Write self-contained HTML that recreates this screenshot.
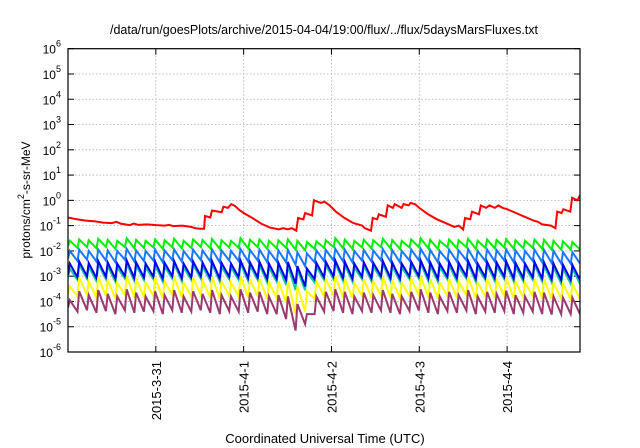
<!DOCTYPE html>
<html><head><meta charset="utf-8"><style>
body{margin:0;background:#fff;}
svg{display:block;font-family:"Liberation Sans",sans-serif;}
</style></head><body>
<svg id="chart" width="640" height="448" viewBox="0 0 640 448"></svg>
<script>
const tickDays=[1,2,3,4,5];
const tickLabels=["2015-3-31","2015-4-1","2015-4-2","2015-4-3","2015-4-4"];
const yDecades=[-6,-5,-4,-3,-2,-1,0,1,2,3,4,5,6];
const toothPeriod=0.108;
const redT=[0,0.1,0.2,0.3,0.4,0.5,0.55,0.6,0.7,0.75,0.8,0.9,1.0,1.1,1.15,1.2,1.3,1.4,1.45,1.5,1.55,1.56,1.62,1.64,1.75,1.77,1.82,1.86,1.9,1.95,2.0,2.1,2.2,2.3,2.4,2.45,2.5,2.55,2.6,2.62,2.68,2.7,2.78,2.8,2.88,2.92,2.98,3.05,3.15,3.25,3.35,3.38,3.45,3.47,3.52,3.54,3.62,3.64,3.7,3.72,3.8,3.82,3.88,3.9,3.95,4.0,4.1,4.2,4.3,4.4,4.45,4.5,4.52,4.58,4.6,4.68,4.7,4.76,4.8,4.86,4.9,4.95,5.0,5.1,5.2,5.3,5.35,5.4,5.5,5.55,5.57,5.62,5.64,5.72,5.74,5.8,5.83];
const redV=[-0.68,-0.75,-0.8,-0.83,-0.88,-0.9,-0.85,-0.92,-0.98,-0.92,-0.97,-0.95,-0.98,-1.0,-0.97,-1.02,-1.0,-1.05,-1.1,-1.12,-1.12,-0.62,-0.68,-0.4,-0.47,-0.25,-0.3,-0.15,-0.22,-0.38,-0.5,-0.7,-0.92,-1.08,-1.15,-1.1,-1.15,-1.1,-1.2,-0.7,-0.75,-0.5,-0.6,0.0,-0.1,-0.05,-0.2,-0.45,-0.7,-0.9,-1.0,-1.1,-1.2,-0.7,-0.75,-0.55,-0.65,-0.2,-0.3,-0.15,-0.3,-0.15,-0.2,-0.1,-0.15,-0.3,-0.55,-0.75,-0.9,-1.05,-1.0,-1.15,-0.7,-0.75,-0.45,-0.55,-0.2,-0.3,-0.2,-0.3,-0.2,-0.3,-0.35,-0.5,-0.65,-0.8,-0.85,-0.95,-1.0,-1.1,-0.45,-0.5,-0.35,-0.45,0.1,0.0,0.2];
const greenPeak=[-1.6,-1.55,-1.58,-1.52,-1.57,-1.6,-1.5,-1.56,-1.6,-1.55,-1.58,-1.52,-1.6,-1.55,-1.57,-1.53,-1.58,-1.6,-1.5,-1.56,-1.55,-1.6,-1.58,-1.55,-1.6,-1.65,-1.62,-1.58,-1.5,-1.55,-1.6,-1.56,-1.58,-1.52,-1.57,-1.6,-1.55,-1.5,-1.56,-1.6,-1.55,-1.58,-1.52,-1.6,-1.55,-1.57,-1.53,-1.58,-1.6,-1.55,-1.56,-1.6,-1.62,-1.65];
const greenTrough=[-1.8,-1.88,-1.85,-1.9,-1.84,-1.92,-1.85,-1.9,-1.88,-1.86,-1.92,-1.85,-1.9,-1.88,-1.84,-1.9,-1.92,-1.86,-1.88,-1.9,-1.85,-1.92,-1.9,-1.88,-1.95,-1.98,-1.92,-1.88,-1.85,-1.9,-1.92,-1.86,-1.9,-1.85,-1.9,-1.92,-1.86,-1.85,-1.9,-1.92,-1.86,-1.9,-1.85,-1.92,-1.88,-1.9,-1.86,-1.92,-1.9,-1.88,-1.92,-1.95,-1.95,-1.95];
const lblueP=[-2.0,-1.95,-2.0,-1.95,-1.98,-2.0,-1.92,-1.98,-2.0,-1.95,-1.98,-1.94,-2.0,-1.95,-1.98,-1.94,-1.98,-2.0,-1.93,-1.96,-1.95,-2.0,-1.98,-1.96,-2.05,-2.1,-1.98,-1.96,-1.92,-1.95,-2.0,-1.96,-1.98,-1.93,-1.97,-2.0,-1.95,-1.92,-1.96,-2.0,-1.95,-1.98,-1.93,-2.0,-1.95,-1.97,-1.94,-1.98,-2.0,-1.95,-1.96,-2.0,-2.05,-2.05];
const lblueT=[-2.3,-2.4,-2.35,-2.42,-2.38,-2.45,-2.35,-2.42,-2.4,-2.38,-2.45,-2.36,-2.42,-2.4,-2.36,-2.42,-2.45,-2.38,-2.4,-2.42,-2.38,-2.45,-2.42,-2.45,-2.55,-2.6,-2.45,-2.4,-2.38,-2.42,-2.45,-2.38,-2.42,-2.37,-2.42,-2.45,-2.38,-2.37,-2.42,-2.45,-2.38,-2.42,-2.37,-2.45,-2.4,-2.42,-2.38,-2.45,-2.42,-2.4,-2.45,-2.48,-2.5,-2.5];
const blueP=[-2.5,-2.42,-2.48,-2.4,-2.46,-2.5,-2.38,-2.45,-2.5,-2.42,-2.47,-2.4,-2.5,-2.42,-2.46,-2.4,-2.47,-2.5,-2.38,-2.45,-2.43,-2.5,-2.47,-2.44,-2.6,-2.7,-2.47,-2.43,-2.38,-2.43,-2.5,-2.45,-2.47,-2.4,-2.46,-2.5,-2.43,-2.38,-2.45,-2.5,-2.43,-2.47,-2.4,-2.5,-2.43,-2.46,-2.41,-2.47,-2.5,-2.43,-2.45,-2.5,-2.55,-2.55];
const blueT=[-2.95,-3.05,-3.0,-3.08,-3.02,-3.1,-3.0,-3.08,-3.05,-3.02,-3.1,-3.0,-3.08,-3.05,-3.0,-3.08,-3.1,-3.02,-3.05,-3.08,-3.05,-3.12,-3.1,-3.15,-3.3,-3.4,-3.12,-3.05,-3.02,-3.08,-3.1,-3.02,-3.08,-3.01,-3.08,-3.1,-3.02,-3.01,-3.08,-3.1,-3.02,-3.08,-3.01,-3.1,-3.05,-3.08,-3.02,-3.1,-3.08,-3.05,-3.1,-3.12,-3.15,-3.15];
const tealP=[-2.7,-2.55,-2.62,-2.52,-2.6,-2.65,-2.5,-2.58,-2.65,-2.55,-2.62,-2.52,-2.65,-2.55,-2.6,-2.52,-2.62,-2.65,-2.5,-2.58,-2.56,-2.65,-2.62,-2.6,-2.75,-2.85,-2.62,-2.56,-2.5,-2.56,-2.65,-2.58,-2.62,-2.52,-2.6,-2.65,-2.56,-2.5,-2.58,-2.65,-2.56,-2.62,-2.52,-2.65,-2.56,-2.6,-2.53,-2.62,-2.65,-2.56,-2.58,-2.65,-2.7,-2.7];
const tealT=[-3.05,-3.15,-3.1,-3.2,-3.12,-3.22,-3.1,-3.2,-3.15,-3.12,-3.22,-3.1,-3.2,-3.15,-3.1,-3.2,-3.22,-3.12,-3.15,-3.2,-3.15,-3.25,-3.22,-3.35,-3.55,-3.55,-3.25,-3.15,-3.12,-3.2,-3.22,-3.12,-3.2,-3.1,-3.2,-3.22,-3.12,-3.1,-3.2,-3.22,-3.12,-3.2,-3.1,-3.22,-3.15,-3.2,-3.12,-3.22,-3.2,-3.15,-3.22,-3.25,-3.3,-3.3];
const yellowP=[-3.4,-3.05,-3.2,-3.02,-3.15,-3.25,-3.0,-3.12,-3.25,-3.05,-3.2,-3.02,-3.25,-3.05,-3.15,-3.02,-3.2,-3.25,-3.0,-3.12,-3.1,-3.25,-3.2,-3.2,-3.4,-3.6,-3.2,-3.1,-3.0,-3.1,-3.25,-3.12,-3.2,-3.02,-3.15,-3.25,-3.1,-3.0,-3.12,-3.25,-3.1,-3.2,-3.02,-3.25,-3.1,-3.15,-3.05,-3.2,-3.25,-3.1,-3.12,-3.25,-3.3,-3.3];
const yellowT=[-3.7,-3.8,-3.75,-3.85,-3.78,-3.88,-3.75,-3.85,-3.8,-3.78,-3.88,-3.75,-3.85,-3.8,-3.75,-3.85,-3.88,-3.78,-3.8,-3.85,-3.8,-3.9,-3.88,-4.05,-4.5,-4.4,-3.9,-3.8,-3.78,-3.85,-3.88,-3.78,-3.85,-3.76,-3.85,-3.88,-3.78,-3.76,-3.85,-3.88,-3.78,-3.85,-3.76,-3.88,-3.8,-3.85,-3.78,-3.88,-3.85,-3.8,-3.88,-3.9,-3.9,-3.9];
const purpleP=[-3.95,-3.6,-3.75,-3.55,-3.7,-3.8,-3.52,-3.65,-3.8,-3.6,-3.75,-3.55,-3.8,-3.6,-3.7,-3.55,-3.75,-3.8,-3.52,-3.65,-3.62,-3.8,-3.75,-3.8,-4.1,-4.5,-3.8,-3.62,-3.52,-3.62,-3.8,-3.65,-3.75,-3.55,-3.7,-3.8,-3.62,-3.52,-3.65,-3.8,-3.62,-3.75,-3.55,-3.8,-3.62,-3.7,-3.58,-3.75,-3.8,-3.62,-3.65,-3.8,-3.85,-3.85];
const purpleT=[-4.25,-4.4,-4.35,-4.45,-4.38,-4.5,-4.35,-4.45,-4.4,-4.38,-4.5,-4.35,-4.45,-4.4,-4.35,-4.45,-4.5,-4.38,-4.4,-4.45,-4.4,-4.5,-4.5,-4.7,-5.15,-4.9,-4.5,-4.4,-4.38,-4.45,-4.5,-4.38,-4.45,-4.36,-4.45,-4.5,-4.38,-4.36,-4.45,-4.5,-4.38,-4.45,-4.36,-4.5,-4.4,-4.45,-4.38,-4.5,-4.45,-4.4,-4.5,-4.52,-4.5,-4.5];

const NS="http://www.w3.org/2000/svg";
const svg=document.getElementById('chart');
const L=68,R=580,T=48.7,B=352,D0=0,D1=5.83;
function xs(d){return L+(d-D0)/(D1-D0)*(R-L);}
function ys(lg){return B-(lg+6)/12*(B-T);}
function mk(tag,attrs,parent){const e=document.createElementNS(NS,tag);for(const k in attrs)e.setAttribute(k,attrs[k]);(parent||svg).appendChild(e);return e;}

const title=mk('text',{x:324,y:34,'text-anchor':'middle','font-size':12.5,fill:'#000'});


title.textContent='/data/run/goesPlots/archive/2015-04-04/19:00/flux/../flux/5daysMarsFluxes.txt';

const grid=mk('g',{stroke:'#b0b0b0','stroke-width':0.8,'stroke-dasharray':'1.5,2'});


yDecades.forEach(p=>{if(p>-6&&p<6)mk('line',{x1:L,x2:R,y1:ys(p),y2:ys(p)},grid);});
tickDays.forEach(d=>mk('line',{x1:xs(d),x2:xs(d),y1:T,y2:B},grid));

const ylab=mk('g',{'font-size':12,fill:'#000'});


yDecades.forEach(p=>{
  const y=ys(p);
  mk('line',{x1:L,x2:L+6,y1:y,y2:y,stroke:'#000'},svg);
  mk('line',{x1:R,x2:R-6,y1:y,y2:y,stroke:'#000'},svg);
  const t=mk('text',{x:61,y:y+5,'text-anchor':'end'},ylab);
  t.textContent='10';
  const s=mk('tspan',{dy:-7,'font-size':9},t);
  s.textContent=String(p);
});
tickDays.forEach((d,i)=>{
  const x=xs(d);
  mk('line',{x1:x,x2:x,y1:B,y2:B-6,stroke:'#000'});
  mk('line',{x1:x,x2:x,y1:T,y2:T+6,stroke:'#000'});
  const t=mk('text',{x:0,y:0,'text-anchor':'end','font-size':13,transform:`translate(${x+5},361) rotate(-90)`});
  
  
  t.textContent=tickLabels[i];
});

const clip=mk('clipPath',{id:'pc'});mk('rect',{x:L,y:T,width:R-L,height:B-T},clip);
const series=[[redT,redV,'#ff0000','red-series'],
 [null,[greenPeak,greenTrough],'#00ee00','green-series'],
 [null,[lblueP,lblueT],'#1a78ff','light-blue-series'],
 [null,[tealP,tealT],'#18c8a0','teal-series'],
 [null,[blueP,blueT],'#0000ee','blue-series'],
 [null,[yellowP,yellowT],'#ffff00','yellow-series'],
 [null,[purpleP,purpleT],'#9b3a6e','purple-series']];
series.forEach(s=>{
  let pts=[];
  if(s[0]){s[0].forEach((d,i)=>pts.push([xs(d),ys(s[1][i])]));}
  else{const P=s[1][0],Tr=s[1][1];
    for(let k=0;k<P.length;k++){const t0=k*toothPeriod;
      pts.push([xs(t0),ys(Tr[k])]);
      pts.push([xs(t0+0.02),ys(P[k])]);}
    pts.push([xs(D1),ys(Tr[Tr.length-1])]);}
  const pl=mk('polyline',{points:pts.map(p=>p[0].toFixed(1)+','+p[1].toFixed(1)).join(' '),fill:'none',stroke:s[2],'stroke-width':2,'clip-path':'url(#pc)','stroke-linejoin':'miter'});
  
  
});
const frame=mk('rect',{x:L,y:T,width:R-L,height:B-T,fill:'none',stroke:'#000','stroke-width':1.2});



const yt=mk('text',{x:0,y:0,'text-anchor':'middle','font-size':12,transform:'translate(30,200) rotate(-90)'});


yt.textContent='protons/cm';
const sup=mk('tspan',{dy:-6,'font-size':9},yt);sup.textContent='2';
const rest=mk('tspan',{dy:6},yt);rest.textContent='-s-sr-MeV';

const xt=mk('text',{x:325,y:443,'text-anchor':'middle','font-size':13});


xt.textContent='Coordinated Universal Time (UTC)';
</script>
</body></html>
